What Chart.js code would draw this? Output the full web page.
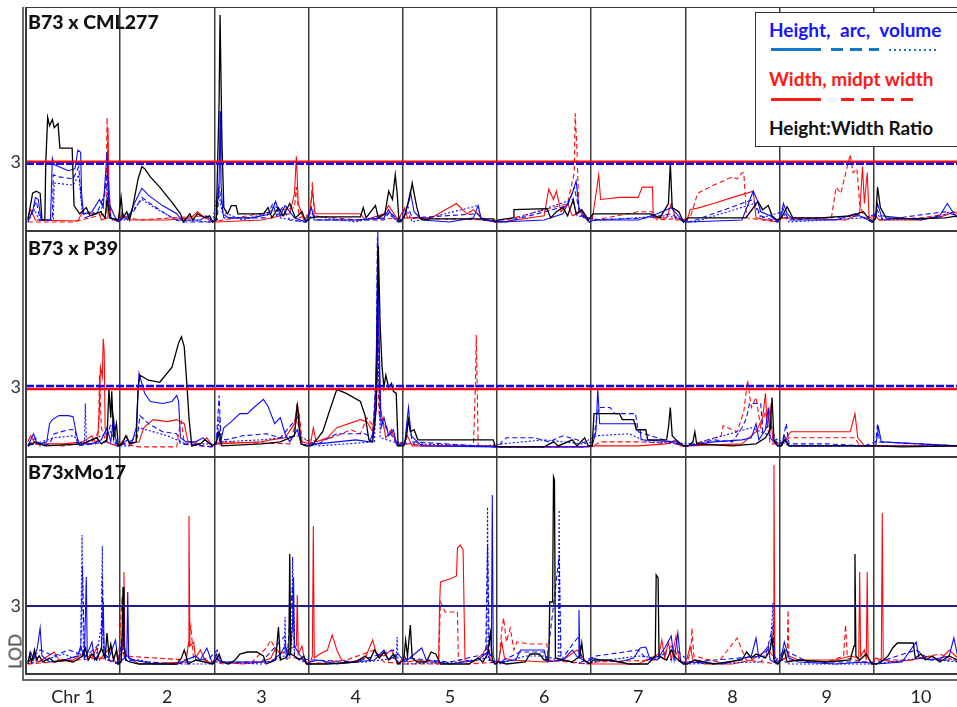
<!DOCTYPE html>
<html>
<head>
<meta charset="utf-8">
<script src="https://cdn.jsdelivr.net/npm/chart.js@4.4.1/dist/chart.umd.min.js"></script>
<style>
  html, body { margin: 0; padding: 0; background: #fff; width: 957px; height: 707px; overflow: hidden; }
  .panel { position: absolute; left: 0; width: 968px; }
  .title { position: absolute; left: 28px; font: 900 19.5px Lato, sans-serif; color: #111; z-index: 2; }
  #legend { position: absolute; left: 755px; top: 12px; width: 230px; height: 133px; border: 1.5px solid #333;
            background: #fff; z-index: 3; font: bold 19px Lato, sans-serif; }
  #legend div { position: absolute; white-space: pre; }
  .smp { height: 3px; }
  #lod { position: absolute; left: -3px; top: 641px; width: 36px; text-align: center; transform: rotate(-90deg);
         font: 17px Lato, sans-serif; color: #333; z-index: 2; }
</style>
</head>
<body>
<div class="panel" style="top:7px;height:224px"><canvas id="cml277"></canvas></div>
<div class="panel" style="top:231px;height:226px"><canvas id="p39"></canvas></div>
<div class="panel" style="top:457px;height:250px"><canvas id="mo17"></canvas></div>

<div class="title" style="top:10px">B73 x CML277</div>
<div class="title" style="top:236px">B73 x P39</div>
<div class="title" style="top:460px">B73xMo17</div>
<div id="lod">LOD</div>

<div id="legend">
  <div style="left:13px;top:5px;color:#1515ff;word-spacing:5px">Height, arc, volume</div>
  <div class="smp" style="left:15px;top:35px;width:50px;background:#1577c8"></div>
  <div class="smp" style="left:75px;top:35px;width:48px;background:repeating-linear-gradient(to right,#1577c8 0 12px,transparent 12px 19px)"></div>
  <div style="left:133px;top:36px;width:47px;height:2px;background:repeating-linear-gradient(to right,#1577c8 0 2px,transparent 2px 5px)"></div>
  <div style="left:13px;top:54px;color:#ff1a1a">Width, midpt width</div>
  <div class="smp" style="left:15px;top:85px;width:50px;background:#ff1a1a"></div>
  <div class="smp" style="left:85px;top:85px;width:72px;background:repeating-linear-gradient(to right,#ff1a1a 0 13px,transparent 13px 20px)"></div>
  <div style="left:13px;top:103px;color:#111">Height:Width Ratio</div>
</div>

<script>
// chromosome layout (genome position in chromosome units, chr N spans N-1..N)
const chrEdges = [1, 2, 3, 4, 5, 6, 7, 8, 9];
const chrCenters = [0.5, 1.5, 2.5, 3.5, 4.5, 5.5, 6.5, 7.5, 8.5, 9.5];
const chrLabels = ['Chr 1', '2', '3', '4', '5', '6', '7', '8', '9', '10'];
const lodTicks = [3];

// ---- B73 x CML277 ----
const cml277Ratio = [[0.02,0.2],[0.07,1.5],[0.11,1.6],[0.15,1.5],[0.17,0.2],[0.2,0.2],[0.21,3.0],[0.23,5.2],[0.25,4.8],[0.28,5.1],[0.3,4.7],[0.34,4.9],[0.36,3.7],[0.49,3.7],[0.51,0.9],[0.57,0.5],[0.64,0.8],[0.68,0.4],[0.79,0.6],[0.84,0.3],[0.86,1.2],[0.89,0.3],[0.98,0.2],
  [1.01,1.3],[1.03,0.3],[1.07,0.6],[1.1,0.2],[1.14,1.0],[1.19,2.2],[1.23,2.8],[1.26,2.7],[1.32,2.3],[1.42,1.8],[1.56,1.0],[1.64,0.5],[1.67,0.1],[1.74,0.5],[1.77,0.2],[1.82,0.5],[1.9,0.3],[1.95,0.4],[1.98,0.1],
  [2.02,0.2],[2.05,6.0],[2.06,10.2],[2.08,4.0],[2.1,0.8],[2.14,0.5],[2.18,0.9],[2.23,0.9],[2.25,0.5],[2.52,0.5],[2.57,0.8],[2.61,0.3],[2.68,0.8],[2.73,0.4],[2.8,1.0],[2.86,0.3],[2.93,0.6],[2.97,0.1],
  [3.02,0.3],[3.1,0.35],[3.55,0.35],[3.58,0.8],[3.61,0.3],[3.71,0.9],[3.74,0.3],[3.81,0.5],[3.85,1.6],[3.89,1.2],[3.92,2.4],[3.94,1.5],[3.96,0.1],
  [4.01,0.3],[4.07,1.2],[4.1,2.0],[4.12,1.5],[4.15,0.8],[4.18,0.3],[4.24,0.2],[4.29,0.25],[4.96,0.25],[4.98,0.1],
  [5.02,0.2],[5.17,0.3],[5.18,0.7],[5.53,0.75],[5.57,0.3],[5.63,0.6],[5.7,0.8],[5.75,0.4],[5.81,1.2],[5.84,0.5],[5.9,0.7],[5.97,0.2],
  [6.02,0.5],[6.08,0.5],[6.63,0.5],[6.73,0.3],[6.82,1.0],[6.84,2.95],[6.86,0.8],[6.93,0.6],[6.98,0.1],
  [7.03,0.3],[7.64,0.3],[7.69,0.6],[7.77,1.1],[7.82,0.7],[7.88,0.9],[7.92,0.4],[7.97,0.2],
  [8.02,0.3],[8.08,0.85],[8.14,0.3],[8.43,0.3],[8.75,0.4],[8.89,0.6],[8.94,0.3],[8.99,0.1],
  [9.02,0.3],[9.04,1.8],[9.07,0.8],[9.13,0.3],[9.39,0.25],[9.76,0.3],[9.89,0.4]];
const cml277Height = [[0.02,0.2],[0.07,0.6],[0.1,1.3],[0.13,1.2],[0.16,0.2],[0.26,0.2],[0.28,3.2],[0.3,2.9],[0.35,2.8],[0.45,2.6],[0.52,2.7],[0.55,3.6],[0.58,3.5],[0.59,1.5],[0.61,0.5],[0.7,0.6],[0.78,1.2],[0.82,0.8],[0.86,3.5],[0.88,1.0],[0.95,0.3],[0.99,0.1],
  [1.02,0.4],[1.08,0.2],[1.15,1.0],[1.23,1.75],[1.3,1.4],[1.45,0.9],[1.6,0.5],[1.65,0.2],[1.85,0.2],[1.92,0.4],[1.98,0.1],
  [2.02,0.3],[2.05,2.0],[2.06,5.5],[2.07,2.0],[2.09,0.5],[2.15,0.3],[2.4,0.3],[2.6,0.5],[2.65,1.1],[2.7,0.4],[2.75,0.9],[2.85,0.3],[2.97,0.1],
  [3.03,0.8],[3.06,0.2],[3.5,0.2],[3.8,0.3],[3.85,0.7],[3.9,0.3],[3.98,0.1],
  [4.03,0.5],[4.08,1.6],[4.12,0.6],[4.2,0.2],[4.5,0.1],[4.75,0.3],[4.8,0.9],[4.83,0.3],[4.98,0.1],
  [5.05,0.1],[5.5,0.2],[5.7,0.5],[5.8,1.5],[5.84,2.1],[5.87,0.8],[5.92,0.4],[5.98,0.1],
  [6.03,0.2],[6.5,0.2],[6.7,0.5],[6.85,0.8],[6.98,0.1],
  [7.03,0.1],[7.6,0.2],[7.72,1.6],[7.76,1.2],[7.8,0.6],[7.9,0.4],[7.98,0.1],
  [8.02,0.4],[8.04,1.0],[8.08,0.5],[8.15,0.2],[8.6,0.2],[8.8,0.5],[8.9,0.3],[8.98,0.1],
  [9.02,0.3],[9.04,1.0],[9.08,0.4],[9.5,0.2],[9.7,0.4],[9.78,1.0],[9.85,0.5],[9.89,0.3]];
const cml277Arc = [[0.02,0.1],[0.08,0.8],[0.11,1.1],[0.15,0.2],[0.28,0.2],[0.29,2.4],[0.35,2.3],[0.5,2.2],[0.56,2.8],[0.59,1.0],[0.62,0.3],[0.75,0.5],[0.83,1.4],[0.86,2.5],[0.9,0.3],[0.99,0.1],
  [1.03,0.3],[1.14,0.6],[1.23,1.3],[1.35,0.9],[1.55,0.3],[1.65,0.1],[1.98,0.1],
  [2.03,0.2],[2.05,1.8],[2.07,1.2],[2.1,0.3],[2.55,0.3],[2.62,1.0],[2.66,0.4],[2.72,0.8],[2.8,0.2],[2.97,0.1],
  [3.02,0.6],[3.1,0.2],[3.8,0.2],[3.86,0.6],[3.95,0.2],
  [4.05,0.9],[4.1,0.3],[4.8,0.5],[4.85,0.2],
  [5.1,0.1],[5.75,0.9],[5.82,1.8],[5.88,0.5],[5.98,0.1],
  [6.05,0.2],[6.6,0.3],[6.85,0.5],[6.98,0.1],
  [7.05,0.1],[7.72,1.2],[7.8,0.4],[7.98,0.1],
  [8.03,0.8],[8.1,0.2],[8.85,0.4],[8.98,0.1],
  [9.03,0.7],[9.1,0.2],[9.75,0.6],[9.89,0.4]];
const cml277Volume = [[0.02,0.1],[0.09,0.7],[0.14,0.2],[0.29,0.2],[0.3,2.0],[0.5,1.9],[0.56,2.4],[0.6,0.5],[0.8,0.6],[0.85,2.0],[0.9,0.2],
  [1.05,0.2],[1.23,1.2],[1.4,0.7],[1.6,0.2],[1.98,0.1],
  [2.04,1.7],[2.08,0.6],[2.3,0.2],[2.6,0.6],[2.64,1.0],[2.7,0.3],[2.97,0.1],
  [3.03,0.4],[3.5,0.1],[3.85,0.5],[3.95,0.1],
  [4.05,0.6],[4.1,0.1],[4.8,0.9],[4.83,0.2],
  [5.1,0.1],[5.8,1.2],[5.85,0.4],
  [6.1,0.2],[6.8,0.4],
  [7.1,0.1],[7.73,1.0],[7.8,0.3],
  [8.03,0.6],[8.1,0.1],[8.9,0.3],
  [9.03,0.5],[9.1,0.2],[9.7,0.3],[9.8,0.6],[9.89,0.4]];
const cml277Width = [[0.02,0.3],[0.05,0.7],[0.1,0.2],[0.55,0.15],[0.59,0.5],[0.78,0.5],[0.8,0.2],[0.86,0.3],[0.87,4.7],[0.88,2.0],[0.9,0.3],[0.99,0.1],
  [1.02,0.6],[1.05,0.3],[1.1,0.2],[1.5,0.2],[1.75,0.3],[1.82,0.6],[1.9,0.3],[1.98,0.1],
  [2.02,0.1],[2.5,0.2],[2.8,0.5],[2.85,1.5],[2.87,3.3],[2.89,1.0],[2.95,0.2],
  [3.01,0.5],[3.04,1.6],[3.07,0.5],[3.12,0.5],[3.55,0.5],[3.6,0.2],[3.8,0.5],[3.85,0.9],[3.95,0.2],
  [4.02,0.8],[4.05,0.3],[4.3,0.3],[4.57,1.0],[4.68,0.5],[4.75,0.7],[4.85,0.2],[4.98,0.1],
  [5.05,0.1],[5.5,0.4],[5.55,1.7],[5.6,1.2],[5.63,1.6],[5.68,0.6],[5.75,1.0],[5.8,0.4],[5.9,0.6],[5.98,0.1],
  [6.01,0.2],[6.08,2.4],[6.1,1.2],[6.3,1.3],[6.5,1.3],[6.54,1.8],[6.65,1.8],[6.66,0.3],[6.8,0.3],[6.85,1.0],[6.9,0.2],
  [7.02,0.2],[7.05,0.7],[7.15,0.8],[7.3,1.0],[7.5,1.3],[7.72,1.6],[7.75,0.3],[7.98,0.1],
  [8.02,0.3],[8.1,0.3],[8.7,0.2],[8.85,0.5],[8.88,2.8],[8.9,1.0],[8.93,2.5],[8.95,0.3],
  [9.02,0.4],[9.06,0.2],[9.5,0.2],[9.75,0.4],[9.85,0.6],[9.89,0.5]];
const cml277Midpt = [[0.02,0.1],[0.5,0.1],[0.85,0.5],[0.86,5.2],[0.87,3.0],[0.89,0.3],[0.99,0.1],
  [1.02,0.4],[1.2,0.2],[1.9,0.4],[1.98,0.1],
  [2.1,0.2],[2.85,0.8],[2.87,1.8],[2.9,0.3],
  [3.02,0.5],[3.04,2.05],[3.06,0.4],[3.5,0.2],
  [4.05,0.3],[4.9,0.2],
  [5.1,0.2],[5.75,1.0],[5.82,2.5],[5.83,5.4],[5.85,3.5],[5.87,0.5],[5.98,0.1],
  [6.05,0.2],[6.5,0.6],[6.65,0.6],[6.7,0.2],
  [7.05,0.3],[7.13,1.5],[7.3,1.9],[7.5,2.3],[7.55,2.2],[7.6,2.5],[7.62,2.5],[7.65,0.3],[7.98,0.1],
  [8.05,0.3],[8.55,0.3],[8.6,1.8],[8.65,1.5],[8.75,3.4],[8.78,2.5],[8.82,2.7],[8.85,1.0],[8.9,0.3],
  [9.05,0.2],[9.5,0.3],[9.8,0.5]];
const cml277Thresholds = { width: 3.04, height: 2.94 };

// ---- B73 x P39 ----
const p39Ratio = [[0.02,0.1],[0.1,0.3],[0.2,0.1],[0.6,0.2],[0.75,0.5],[0.8,0.2],[0.86,0.4],[0.88,2.9],[0.9,1.5],[0.91,2.8],[0.93,0.5],[0.96,1.2],[0.98,0.1],
  [1.02,0.2],[1.06,0.6],[1.1,0.2],[1.17,0.3],[1.19,3.0],[1.21,3.6],[1.3,3.35],[1.42,3.25],[1.55,4.0],[1.62,5.2],[1.65,5.5],[1.68,5.0],[1.71,3.0],[1.73,1.5],[1.76,0.1],[1.85,0.2],[1.9,0.4],[1.98,0.1],
  [2.02,0.3],[2.05,0.8],[2.08,0.1],[2.5,0.2],[2.7,0.3],[2.85,0.6],[2.88,2.2],[2.9,1.0],[2.92,0.2],[2.97,0.1],
  [3.02,0.1],[3.05,0.2],[3.15,0.8],[3.22,1.8],[3.3,2.9],[3.4,2.7],[3.55,2.3],[3.6,1.6],[3.64,0.4],[3.68,0.3],[3.72,2.0],[3.74,10.0],[3.76,6.0],[3.78,4.0],[3.8,3.0],[3.82,3.6],[3.85,3.0],[3.88,3.2],[3.9,2.8],[3.93,2.7],[3.95,0.1],
  [4.01,0.1],[4.04,0.6],[4.06,1.4],[4.08,0.8],[4.12,0.9],[4.16,0.4],[4.25,0.4],[4.96,0.4],[4.98,0.1],
  [5.02,0.05],[5.5,0.05],[5.6,0.3],[5.65,0.1],[5.8,0.4],[5.85,0.1],[5.93,0.5],[5.97,0.1],
  [6.01,0.1],[6.03,1.7],[6.3,1.7],[6.33,1.4],[6.45,1.4],[6.48,0.9],[6.58,0.9],[6.6,0.4],[6.8,0.4],[6.82,1.0],[6.84,2.0],[6.86,0.6],[6.9,0.4],[6.98,0.1],
  [7.03,0.1],[7.08,0.3],[7.1,0.8],[7.12,0.2],[7.5,0.1],[7.75,0.2],[7.85,0.5],[7.9,0.9],[7.92,2.5],[7.94,0.4],[7.98,0.1],
  [8.02,0.1],[8.05,0.4],[8.1,0.1],[8.9,0.1],[8.98,0.1],
  [9.02,0.1],[9.3,0.05],[9.89,0.1]];
const p39Height = [[0.02,0.1],[0.08,0.7],[0.11,0.3],[0.15,0.2],[0.22,0.3],[0.25,1.2],[0.28,1.4],[0.35,1.6],[0.45,1.6],[0.5,1.55],[0.53,0.8],[0.56,0.2],[0.7,0.2],[0.8,0.4],[0.86,1.0],[0.9,0.3],[0.93,1.5],[0.95,0.5],[0.98,0.1],
  [1.02,0.2],[1.08,0.4],[1.12,0.2],[1.17,1.0],[1.2,3.7],[1.23,3.2],[1.26,2.7],[1.32,2.3],[1.45,2.2],[1.55,2.3],[1.6,2.6],[1.62,2.3],[1.64,0.5],[1.7,0.3],[1.8,0.3],[1.88,0.5],[1.98,0.1],
  [2.02,0.2],[2.04,0.8],[2.06,0.2],[2.1,1.0],[2.18,1.3],[2.27,1.7],[2.35,1.7],[2.42,2.0],[2.52,2.4],[2.57,2.05],[2.64,1.2],[2.7,1.5],[2.75,0.7],[2.8,0.3],[2.88,0.9],[2.92,0.2],[2.98,0.1],
  [3.02,0.2],[3.1,0.2],[3.5,0.4],[3.65,0.3],[3.7,1.0],[3.72,5.0],[3.735,10.7],[3.75,5.0],[3.77,1.0],[3.8,1.5],[3.85,0.6],[3.9,0.9],[3.94,0.1],
  [4.02,0.2],[4.06,2.0],[4.09,0.6],[4.2,0.1],[4.98,0.05],
  [5.05,0.05],[5.9,0.05],
  [6.01,0.1],[6.05,0.8],[6.07,2.9],[6.09,1.2],[6.47,1.2],[6.48,0.9],[6.52,0.9],[6.53,0.4],[6.9,0.3],[6.98,0.1],
  [7.02,0.1],[7.3,0.3],[7.6,0.4],[7.7,0.5],[7.75,1.2],[7.78,0.4],[7.85,0.9],[7.88,2.0],[7.9,0.5],[7.98,0.1],
  [8.02,0.1],[8.05,0.6],[8.1,0.1],[8.9,0.1],
  [9.02,0.1],[9.05,1.0],[9.08,0.3],[9.89,0.1]];
const p39Arc = [[0.02,0.1],[0.1,0.5],[0.15,0.1],[0.25,0.2],[0.3,0.7],[0.45,0.9],[0.52,0.9],[0.55,0.1],[0.85,0.3],[0.9,1.2],[0.93,1.0],[0.96,0.2],
  [1.05,0.2],[1.18,0.5],[1.21,1.6],[1.3,1.2],[1.45,0.8],[1.6,0.7],[1.64,0.2],[1.98,0.05],
  [2.02,0.3],[2.05,2.6],[2.07,0.5],[2.12,0.4],[2.3,0.6],[2.55,0.7],[2.7,0.5],[2.88,1.5],[2.92,0.2],
  [3.02,0.1],[3.1,0.2],[3.3,0.7],[3.6,0.7],[3.68,0.5],[3.72,4.0],[3.73,10.4],[3.745,4.0],[3.76,1.5],[3.82,1.0],[3.9,0.5],[3.95,0.1],
  [4.03,0.4],[4.06,1.5],[4.1,0.3],[4.98,0.05],
  [5.02,0.1],[5.05,0.3],[5.1,0.5],[5.25,0.5],[5.4,0.5],[5.55,0.3],[5.7,0.6],[5.85,0.4],[5.95,0.2],
  [6.02,0.3],[6.05,1.2],[6.08,2.0],[6.2,2.0],[6.25,1.7],[6.47,1.7],[6.5,0.8],[6.7,0.5],[6.98,0.1],
  [7.05,0.1],[7.3,0.4],[7.5,0.3],[7.6,1.0],[7.65,1.5],[7.68,2.2],[7.8,2.2],[7.82,0.8],[7.9,1.2],[7.98,0.1],
  [8.03,0.3],[8.07,1.2],[8.1,0.2],[8.5,0.2],[8.9,0.1],
  [9.02,0.3],[9.04,1.2],[9.06,0.3],[9.89,0.1]];
const p39Volume = [[0.02,0.1],[0.3,0.5],[0.5,0.6],[0.6,0.2],[0.62,0.3],[0.63,2.2],[0.64,0.3],[0.9,0.8],[0.96,0.1],
  [1.1,0.1],[1.2,1.0],[1.5,0.6],[1.7,0.2],
  [2.02,0.2],[2.05,1.5],[2.08,0.3],[2.5,0.4],[2.9,0.6],
  [3.1,0.1],[3.7,0.3],[3.73,6.0],[3.76,0.5],[3.9,0.3],
  [4.1,0.2],[4.9,0.1],
  [5.05,0.2],[5.5,0.4],[5.9,0.2],
  [6.05,0.6],[6.4,0.7],[6.6,0.3],
  [7.1,0.2],[7.7,1.0],[7.9,0.6],
  [8.1,0.1],[8.9,0.1],[9.3,0.1],[9.89,0.1]];
const p39Width = [[0.02,0.3],[0.05,0.6],[0.1,0.2],[0.4,0.2],[0.6,0.3],[0.7,0.6],[0.74,0.2],[0.76,0.4],[0.78,2.0],[0.79,4.0],[0.81,3.5],[0.82,5.4],[0.83,4.8],[0.84,1.0],[0.86,0.3],[0.9,0.2],[0.98,0.1],
  [1.02,0.3],[1.07,0.6],[1.1,0.2],[1.2,0.3],[1.25,1.0],[1.35,1.4],[1.5,1.3],[1.6,1.4],[1.68,1.2],[1.72,0.3],[1.85,0.2],[1.92,0.5],[1.98,0.1],
  [2.02,0.2],[2.5,0.3],[2.6,0.4],[2.75,0.5],[2.85,1.2],[2.88,2.2],[2.9,1.5],[2.92,0.3],
  [3.02,0.2],[3.05,1.0],[3.08,0.3],[3.2,0.5],[3.3,1.0],[3.55,1.4],[3.62,1.3],[3.68,0.8],[3.72,3.0],[3.74,6.7],[3.76,2.0],[3.82,0.5],[3.88,0.9],[3.93,0.2],
  [4.02,0.3],[4.05,0.6],[4.1,0.1],[4.95,0.1],
  [5.05,0.05],[5.95,0.05],
  [6.05,0.1],[6.5,0.1],[6.8,0.2],[6.9,0.4],[6.95,0.1],
  [7.03,0.1],[7.6,0.2],[7.75,0.8],[7.82,1.5],[7.85,2.7],[7.87,1.0],[7.9,2.0],[7.93,0.3],
  [8.03,0.2],[8.12,0.8],[8.3,0.8],[8.6,0.8],[8.75,0.8],[8.8,1.7],[8.83,0.5],[8.9,0.1],
  [9.02,0.1],[9.89,0.1]];
const p39Midpt = [[0.02,0.2],[0.4,0.1],[0.7,0.3],[0.77,0.8],[0.78,3.6],[0.8,1.0],[0.85,0.3],[0.98,0.1],
  [1.02,0.2],[1.2,0.05],[1.6,0.05],[1.63,1.0],[1.65,1.3],[1.68,0.2],[1.98,0.05],
  [2.05,0.3],[2.8,0.2],[2.9,1.8],[2.93,0.3],
  [3.02,0.4],[3.1,0.3],[3.3,0.6],[3.45,0.9],[3.55,0.7],[3.62,1.5],[3.7,1.0],[3.73,4.0],[3.75,1.5],[3.9,0.6],[3.95,0.1],
  [4.05,0.2],[4.4,0.1],[4.75,0.1],[4.77,3.0],[4.78,5.6],[4.79,3.0],[4.8,0.1],[4.98,0.05],
  [5.05,0.05],[5.95,0.05],
  [6.02,0.1],[6.1,0.3],[6.5,0.3],[6.9,0.2],
  [7.02,0.1],[7.38,0.6],[7.4,1.1],[7.55,0.8],[7.62,1.8],[7.66,3.35],[7.7,2.0],[7.75,2.5],[7.8,1.0],[7.85,1.8],[7.9,0.2],
  [8.02,0.2],[8.1,0.5],[8.5,0.5],[8.8,0.5],[8.85,0.1],
  [9.02,0.1],[9.89,0.1]];
const p39Thresholds = { width: 2.92, height: 3.07 };

// ---- B73 x Mo17 ----
const mo17Ratio = [[0.02,0.1],[0.04,0.6],[0.06,0.2],[0.09,0.8],[0.11,0.3],[0.14,0.5],[0.18,0.2],[0.25,0.4],[0.3,0.2],[0.4,0.3],[0.5,0.2],[0.6,0.5],[0.63,0.9],[0.66,0.3],[0.7,0.6],[0.75,0.3],[0.8,0.9],[0.84,0.4],[0.86,1.65],[0.88,0.6],[0.9,1.1],[0.93,0.3],[0.96,0.8],[0.98,0.1],
  [1.01,0.2],[1.02,1.5],[1.03,3.95],[1.04,1.0],[1.06,0.3],[1.1,0.2],[1.2,0.1],[1.6,0.1],[1.65,0.4],[1.68,0.8],[1.7,0.5],[1.72,0.1],[1.8,0.3],[1.9,0.2],[1.98,0.1],
  [2.02,0.3],[2.05,0.6],[2.08,0.2],[2.15,0.1],[2.22,0.3],[2.27,0.6],[2.35,0.7],[2.45,0.7],[2.52,0.5],[2.55,0.1],[2.65,0.3],[2.68,1.95],[2.7,0.3],[2.75,0.4],[2.79,0.6],[2.8,5.6],[2.81,0.6],[2.85,0.5],[2.9,0.3],[2.95,0.5],[2.98,0.1],
  [3.02,0.1],[3.2,0.1],[3.5,0.2],[3.6,0.5],[3.65,0.3],[3.7,0.8],[3.75,0.4],[3.8,0.7],[3.85,0.3],[3.9,0.6],[3.95,0.1],
  [4.01,0.3],[4.03,1.3],[4.05,0.5],[4.08,2.05],[4.1,0.4],[4.15,0.2],[4.25,0.2],[4.3,0.7],[4.35,0.6],[4.4,0.1],[4.7,0.1],[4.8,0.4],[4.85,0.2],[4.9,0.6],[4.93,1.65],[4.95,0.3],[4.98,0.1],
  [5.02,0.2],[5.1,0.1],[5.3,0.2],[5.35,0.6],[5.45,0.6],[5.5,0.3],[5.55,0.3],[5.56,3.2],[5.59,3.2],[5.6,9.45],[5.61,9.3],[5.62,0.4],[5.7,0.3],[5.8,0.2],[5.88,0.5],[5.9,1.15],[5.92,0.3],[5.98,0.1],
  [6.02,0.3],[6.2,0.3],[6.4,0.1],[6.6,0.1],[6.68,0.5],[6.69,4.55],[6.71,4.4],[6.72,0.5],[6.8,0.3],[6.85,0.8],[6.9,0.4],[6.98,0.1],
  [7.02,0.1],[7.1,0.3],[7.3,0.1],[7.6,0.3],[7.65,0.7],[7.7,0.4],[7.75,0.6],[7.85,0.4],[7.9,0.8],[7.92,1.45],[7.94,0.3],[7.98,0.1],
  [8.02,0.3],[8.05,0.8],[8.08,0.2],[8.2,0.3],[8.5,0.2],[8.75,0.3],[8.79,1.0],[8.8,5.6],[8.81,0.5],[8.85,0.3],[8.92,0.6],[8.98,0.1],
  [9.02,0.1],[9.08,0.2],[9.15,0.5],[9.2,0.9],[9.25,1.15],[9.42,1.15],[9.44,0.4],[9.5,0.6],[9.55,0.3],[9.62,0.5],[9.7,0.2],[9.8,0.5],[9.89,0.3]];
const mo17Height = [[0.02,0.2],[0.05,0.7],[0.08,0.3],[0.12,0.9],[0.15,1.9],[0.17,0.5],[0.25,0.2],[0.4,0.3],[0.55,0.5],[0.58,1.0],[0.62,0.4],[0.64,4.45],[0.65,0.6],[0.7,1.2],[0.73,0.3],[0.8,0.8],[0.82,3.2],[0.83,0.6],[0.88,0.4],[0.95,1.3],[0.98,0.1],
  [1.02,0.3],[1.07,0.5],[1.08,3.7],[1.09,0.4],[1.15,0.3],[1.25,0.2],[1.35,0.1],[1.6,0.1],[1.7,0.3],[1.8,0.5],[1.85,0.3],[1.92,0.9],[1.98,0.1],
  [2.02,0.6],[2.04,0.3],[2.1,0.2],[2.6,0.2],[2.7,0.6],[2.75,1.0],[2.8,0.5],[2.83,2.0],[2.84,4.45],[2.85,1.0],[2.9,0.6],[2.98,0.1],
  [3.02,0.2],[3.1,0.3],[3.3,0.1],[3.7,0.3],[3.8,0.8],[3.85,0.3],[3.95,0.6],
  [4.02,0.2],[4.1,0.5],[4.2,0.9],[4.25,0.3],[4.5,0.1],[4.8,0.3],[4.9,0.7],[4.94,0.5],[4.95,8.55],[4.96,0.5],[4.98,0.1],
  [5.02,0.2],[5.2,0.3],[5.25,0.8],[5.5,0.8],[5.53,0.2],[5.7,0.3],[5.8,0.8],[5.86,0.4],[5.87,2.8],[5.88,0.4],[5.95,0.2],
  [6.02,0.4],[6.1,0.3],[6.3,0.2],[6.45,0.4],[6.52,0.9],[6.58,0.95],[6.62,0.4],[6.7,0.3],[6.78,0.9],[6.85,1.5],[6.88,0.3],[6.92,1.65],[6.95,0.2],
  [7.02,0.2],[7.4,0.1],[7.7,0.5],[7.75,1.4],[7.78,0.4],[7.88,1.0],[7.9,0.3],[7.98,0.1],
  [8.02,0.5],[8.05,1.2],[8.1,0.4],[8.2,0.2],[8.6,0.1],[8.9,0.2],
  [9.02,0.1],[9.3,0.2],[9.45,1.2],[9.48,0.4],[9.6,0.3],[9.8,0.5],[9.85,1.4],[9.89,0.5]];
const mo17Arc = [[0.02,0.2],[0.15,0.8],[0.3,0.5],[0.45,0.8],[0.58,0.6],[0.6,5.0],[0.62,0.4],[0.8,1.2],[0.81,4.5],[0.83,0.4],[0.98,0.1],
  [1.03,1.8],[1.06,0.3],[1.3,0.2],[1.6,0.1],[1.95,0.4],
  [2.03,0.8],[2.06,0.2],[2.5,0.2],[2.75,1.5],[2.77,0.3],[2.83,4.0],[2.85,0.4],
  [3.05,0.3],[3.5,0.2],[3.9,0.8],[3.95,0.1],
  [4.05,0.4],[4.5,0.2],[4.88,0.6],[4.9,6.0],[4.92,0.3],
  [5.02,0.2],[5.25,0.7],[5.5,0.7],[5.53,0.2],[5.66,5.5],[5.68,0.3],[5.87,1.5],[5.9,0.2],
  [6.05,0.5],[6.5,0.8],[6.6,0.3],[6.9,0.8],
  [7.05,0.2],[7.85,0.5],[7.93,2.0],[7.95,0.2],
  [8.05,0.8],[8.3,0.2],[8.9,0.2],
  [9.05,0.2],[9.45,0.8],[9.6,0.3],[9.89,0.3]];
const mo17Volume = [[0.02,0.1],[0.2,0.3],[0.4,0.6],[0.5,0.4],[0.58,0.8],[0.595,6.55],[0.61,0.5],[0.75,0.6],[0.8,2.0],[0.81,6.0],[0.82,0.5],[0.9,0.3],[0.98,0.1],
  [1.02,1.0],[1.05,0.3],[1.2,0.3],[1.4,0.1],[1.98,0.1],
  [2.02,0.2],[2.5,0.1],[2.74,0.5],[2.75,2.45],[2.76,0.5],[2.82,1.0],[2.83,5.45],[2.85,0.5],[2.98,0.1],
  [3.02,0.1],[3.6,0.2],[3.93,0.4],[3.94,1.45],[3.95,0.1],
  [4.02,0.1],[4.6,0.2],[4.89,0.4],[4.9,7.95],[4.91,0.3],[4.98,0.1],
  [5.02,0.1],[5.3,0.5],[5.5,0.5],[5.65,0.3],[5.66,7.8],[5.67,0.3],[5.95,0.1],
  [6.02,0.2],[6.5,0.5],[6.9,0.3],
  [7.02,0.1],[7.8,0.2],[7.9,0.8],[7.93,3.15],[7.94,0.2],
  [8.02,0.3],[8.1,0.1],[8.9,0.1],
  [9.02,0.1],[9.5,0.4],[9.89,0.2]];
const mo17Width = [[0.02,0.3],[0.05,0.2],[0.1,0.6],[0.13,0.2],[0.2,0.4],[0.3,0.7],[0.35,0.3],[0.5,0.3],[0.6,0.6],[0.7,0.4],[0.75,0.9],[0.78,0.3],[0.85,0.7],[0.9,0.9],[0.93,0.3],[0.98,0.1],
  [1.01,0.2],[1.03,1.5],[1.04,4.7],[1.05,0.6],[1.1,0.4],[1.2,0.1],[1.7,0.2],[1.72,1.0],[1.73,7.5],[1.74,1.0],[1.78,1.2],[1.8,0.4],[1.85,0.8],[1.9,0.3],[1.98,0.1],
  [2.02,0.4],[2.06,0.2],[2.3,0.1],[2.5,0.2],[2.6,0.4],[2.65,0.9],[2.7,0.6],[2.78,0.8],[2.87,1.0],[2.88,3.55],[2.89,0.6],[2.93,1.0],[2.96,0.2],
  [3.02,0.2],[3.04,0.5],[3.05,7.0],[3.06,0.4],[3.12,0.6],[3.2,0.8],[3.25,1.55],[3.3,0.8],[3.35,0.3],[3.45,0.2],[3.6,0.4],[3.68,1.3],[3.72,0.6],[3.8,0.5],[3.88,0.8],[3.95,0.1],
  [4.02,0.5],[4.05,0.2],[4.15,0.3],[4.3,0.2],[4.38,0.1],[4.39,3.0],[4.4,4.2],[4.5,4.35],[4.57,4.5],[4.58,5.9],[4.61,6.05],[4.64,5.8],[4.66,0.3],[4.75,0.2],[4.85,0.6],[4.9,1.0],[4.93,0.3],[4.98,0.1],
  [5.02,0.3],[5.05,1.2],[5.08,0.4],[5.15,0.3],[5.5,0.2],[5.7,0.3],[5.85,0.8],[5.9,0.5],[5.95,0.2],
  [6.02,0.1],[6.5,0.1],[6.72,0.6],[6.75,1.3],[6.78,0.4],[6.82,1.2],[6.85,0.3],[6.9,1.5],[6.93,0.3],[6.98,0.1],
  [7.02,0.4],[7.05,1.0],[7.08,0.3],[7.2,0.1],[7.5,0.1],[7.7,0.3],[7.8,0.6],[7.88,0.8],[7.93,0.5],[7.94,10.05],[7.95,0.5],[7.98,0.1],
  [8.02,0.3],[8.1,0.5],[8.2,0.3],[8.6,0.3],[8.75,0.5],[8.84,0.4],[8.85,4.7],[8.86,0.5],[8.9,0.8],[8.92,0.3],[8.93,4.7],[8.94,0.4],[8.98,0.1],
  [9.02,0.4],[9.08,0.3],[9.09,7.65],[9.1,0.3],[9.2,0.2],[9.4,0.3],[9.6,0.5],[9.7,0.3],[9.8,0.8],[9.89,0.4]];
const mo17Midpt = [[0.02,0.1],[0.3,0.2],[0.8,0.4],[0.98,0.1],
  [1.02,3.5],[1.04,0.5],[1.7,0.3],[1.75,2.0],[1.78,0.3],[1.9,0.3],
  [2.1,0.1],[2.4,0.2],[2.55,0.9],[2.6,1.3],[2.65,0.8],[2.7,0.4],[2.9,0.4],
  [3.02,0.1],[3.4,0.3],[3.7,0.8],[3.8,0.2],
  [4.02,0.1],[4.38,0.1],[4.4,3.2],[4.42,3.0],[4.45,2.7],[4.58,2.7],[4.59,0.3],[4.7,0.1],
  [5.02,0.2],[5.05,1.8],[5.07,2.4],[5.1,1.2],[5.14,1.9],[5.18,0.8],[5.21,1.2],[5.35,1.1],[5.53,1.1],[5.54,0.3],[5.95,0.1],
  [6.05,0.2],[6.7,0.3],[6.85,1.0],[6.98,0.1],
  [7.02,0.2],[7.06,0.8],[7.07,1.9],[7.09,0.5],[7.35,0.2],[7.45,0.8],[7.55,1.4],[7.6,0.8],[7.65,0.3],[7.98,0.1],
  [8.02,0.3],[8.08,0.4],[8.09,2.8],[8.1,0.3],[8.5,0.2],[8.68,0.5],[8.7,2.05],[8.72,0.4],[8.98,0.1],
  [9.02,0.3],[9.4,0.3],[9.7,0.6],[9.89,0.2]];
const mo17Threshold = 3;

const BLUE = '#0a0aff', RED = '#ff0a0a', BLACK = '#000';

// frame around each panel plus the offset axis lines on the left/bottom
const framePlugin = {
  id: 'frame',
  afterDraw(chart, args, opts) {
    const { ctx, chartArea: a } = chart;
    ctx.save();
    ctx.strokeStyle = '#3a3a3a';
    ctx.lineWidth = 2;
    ctx.strokeRect(a.left, a.top, a.right - a.left, a.bottom - a.top);
    ctx.lineWidth = 1.5;
    ctx.beginPath();
    ctx.moveTo(a.left - 3, a.top);
    ctx.lineTo(a.left - 3, a.bottom + (opts.axisLine ? 6 : 0));
    if (opts.axisLine) ctx.lineTo(a.right, a.bottom + 6);
    ctx.stroke();
    ctx.restore();
  }
};

function line(data, color, dash, width) {
  return {
    data: data.map(([x, y]) => ({ x, y })),
    borderColor: color,
    borderDash: dash,
    borderWidth: width,
    pointRadius: 0,
    tension: 0,
    fill: false
  };
}

function flat(value, color, dash, width) {
  return line([[0, value], [10, value]], color, dash, width);
}

function traitSets(ratio, height, arc, volume, width, midpt) {
  return [
    line(ratio, BLACK, [], 1.3),
    line(height, BLUE, [], 1.1),
    line(arc, BLUE, [5, 3], 1.1),
    line(volume, BLUE, [2, 2], 1.1),
    line(width, RED, [], 1.1),
    line(midpt, RED, [5, 3], 1.1)
  ];
}

function makePanel(canvasId, datasets, yMin, yMax, withLabels) {
  const scales = {
    x: {
      type: 'linear', min: 0, max: 10, position: 'bottom',
      afterBuildTicks: (s) => { s.ticks = chrEdges.map((v) => ({ value: v })); },
      afterFit: (s) => { s.height = 0; s.paddingLeft = 0; s.paddingRight = 0; },
      ticks: { display: false },
      border: { display: false },
      grid: { color: '#3c3c3c', lineWidth: 1.5, drawTicks: false }
    },
    y: {
      type: 'linear', min: yMin, max: yMax,
      afterBuildTicks: (s) => { s.ticks = lodTicks.map((v) => ({ value: v })); },
      afterFit: (s) => { s.width = 26; s.paddingTop = 0; s.paddingBottom = 0; },
      ticks: { padding: 5, color: '#333', font: { size: 18 } },
      border: { display: false },
      grid: { display: false, drawTicks: false }
    }
  };
  if (withLabels) {
    scales.x2 = {
      type: 'linear', min: 0, max: 10, position: 'bottom',
      afterBuildTicks: (s) => { s.ticks = chrCenters.map((v) => ({ value: v })); },
      afterFit: (s) => { s.height = 33; s.paddingLeft = 0; s.paddingRight = 0; },
      ticks: {
        autoSkip: false, maxRotation: 0, padding: 12, color: '#222', font: { size: 18 },
        callback: (v, i) => chrLabels[i]
      },
      border: { display: false },
      grid: { display: false, drawTicks: false }
    };
  }
  return new Chart(document.getElementById(canvasId), {
    type: 'line',
    data: { datasets },
    options: {
      responsive: true,
      maintainAspectRatio: false,
      animation: false,
      layout: { padding: 0 },
      plugins: { legend: { display: false }, tooltip: { enabled: false }, frame: { axisLine: withLabels } },
      scales
    },
    plugins: [framePlugin]
  });
}

Chart.defaults.font.family = "Lato, 'Open Sans', sans-serif";

makePanel('cml277', [
  flat(cml277Thresholds.height, BLUE, [8, 2], 2.5),
  flat(cml277Thresholds.width, RED, [], 2.5),
  ...traitSets(cml277Ratio, cml277Height, cml277Arc, cml277Volume, cml277Width, cml277Midpt)
], -0.34, 10.59, false);

makePanel('p39', [
  flat(p39Thresholds.height, BLUE, [8, 2], 2.5),
  flat(p39Thresholds.width, RED, [], 2.5),
  ...traitSets(p39Ratio, p39Height, p39Arc, p39Volume, p39Width, p39Midpt)
], -0.45, 10.74, false);

makePanel('mo17', [
  flat(mo17Threshold, '#1c1c8c', [], 2),
  ...traitSets(mo17Ratio, mo17Height, mo17Arc, mo17Volume, mo17Width, mo17Midpt)
], -0.4, 10.45, true);
</script>
</body>
</html>
